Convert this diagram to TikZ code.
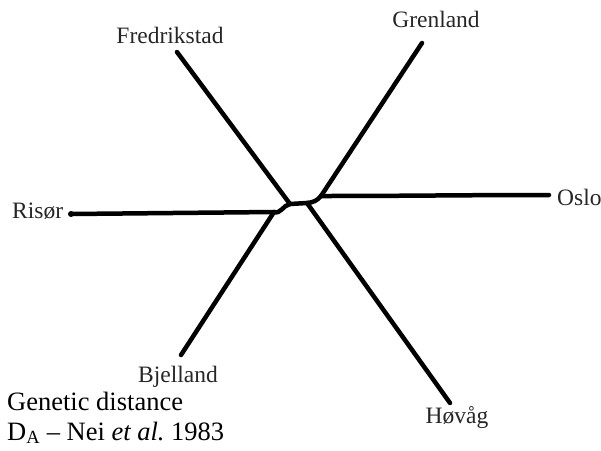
\documentclass[tikz,border=0pt]{standalone}
\usepackage{fontspec}
\setmainfont{Liberation Serif}
\begin{document}
\begin{tikzpicture}[x=1pt,y=-1pt,
  branch/.style={line width=4.5pt,line cap=round,line join=round,black},
  taxon/.style={inner sep=0pt,text=black!85,font=\fontsize{23.5}{27}\selectfont},
  caption/.style={inner sep=0pt,anchor=base west,font=\fontsize{26.5}{30}\selectfont}]
\useasboundingbox (0,0) rectangle (601,450);
% internal junctions
\coordinate (A) at (274,212);
\coordinate (B) at (290,204);
\coordinate (C) at (307,203);
\coordinate (D) at (321,196);
% tips
\coordinate (tRisor) at (71,214);
\coordinate (tBjelland) at (181,355);
\coordinate (tFredrikstad) at (177,52);
\coordinate (tHovag) at (450,403);
\coordinate (tGrenland) at (422,43);
\coordinate (tOslo) at (549,195);
% branches
\draw[branch] (tRisor) -- (A);
\draw[branch] (tBjelland) -- (A);
\draw[branch] (A) to[out=-20,in=190] (B);
\draw[branch] (tFredrikstad) -- (B);
\draw[branch] (B) -- (C);
\draw[branch] (C) -- (tHovag);
\draw[branch] (C) to[out=5,in=230] (D);
\draw[branch] (D) -- (tGrenland);
\draw[branch] (D) to[out=0,in=180] (tOslo);
\fill (tRisor) circle (3pt);
% labels
\node[taxon,anchor=base] (lFredrikstad) at (170,43) {Fredrikstad};
\node[taxon,anchor=base] (lGrenland) at (436,27) {Grenland};
\node[taxon,anchor=base west] (lOslo) at (557,205) {Oslo};
\node[taxon,anchor=base west] (lRisor) at (12,218) {Risør};
\node[taxon,anchor=base] (lBjelland) at (178,382) {Bjelland};
\node[taxon,anchor=base] (lHovag) at (457,423) {Høvåg};
\node[caption] (cap1) at (7,410) {Genetic distance};
\node[caption] (cap2) at (7,440) {D\textsubscript{A} – Nei \textit{et al.}\ 1983};
\end{tikzpicture}
\end{document}
